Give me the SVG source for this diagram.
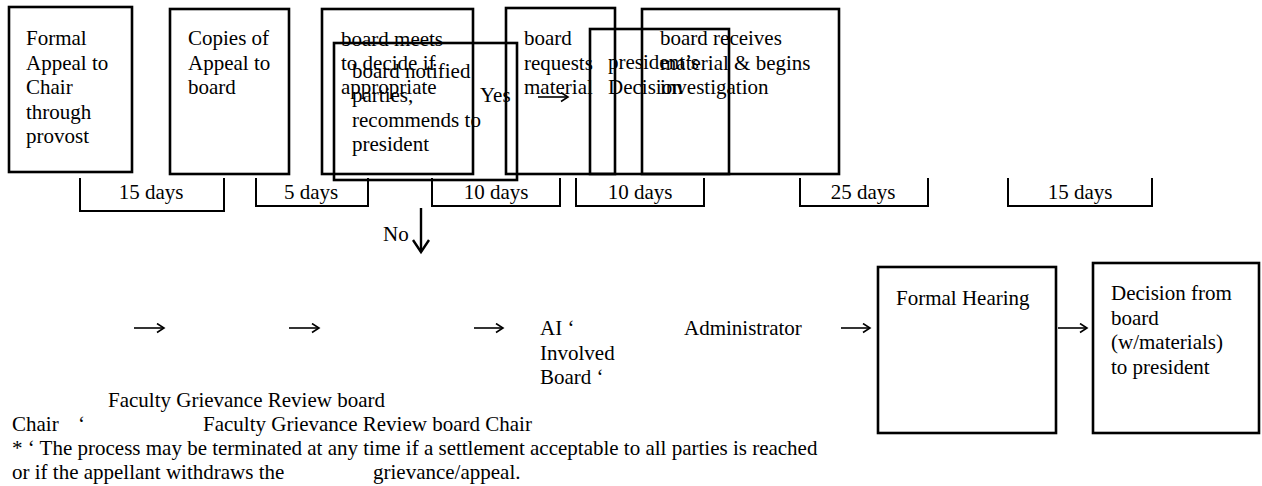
<svg xmlns="http://www.w3.org/2000/svg" width="1262" height="486" viewBox="0 0 1262 486">
<defs>
<style>
text{font-family:"Liberation Serif","Times New Roman",serif;font-size:21px;fill:#000}
.box{fill:none;stroke:#000;stroke-width:2.6}
.br{fill:none;stroke:#000;stroke-width:2}
.arr{fill:none;stroke:#000;stroke-width:1.6}
.arrb{fill:none;stroke:#000;stroke-width:2.4}
</style>
<marker id="ah" markerUnits="userSpaceOnUse" markerWidth="10" markerHeight="12" refX="8" refY="5" orient="auto">
<path d="M1,0.5 L8,5 L1,9.5" fill="none" stroke="#000" stroke-width="1.6"/>
</marker>
<marker id="ahb" markerUnits="userSpaceOnUse" markerWidth="16" markerHeight="20" refX="13" refY="9" orient="auto">
<path d="M1,1 L13,9 L1,17" fill="none" stroke="#000" stroke-width="2.4"/>
</marker>
</defs>
<rect width="1262" height="486" fill="#fff"/>

<g id="n-formal-appeal">
<rect class="box" x="9" y="7" width="123" height="165"/>
<text x="26" y="45">Formal<tspan x="26" dy="24.5">Appeal to</tspan><tspan x="26" dy="24.5">Chair</tspan><tspan x="26" dy="24.5">through</tspan><tspan x="26" dy="24.5">provost</tspan></text>
</g>
<g id="n-copies">
<rect class="box" x="170" y="9" width="119" height="165"/>
<text x="188" y="45">Copies of<tspan x="188" dy="24.5">Appeal to</tspan><tspan x="188" dy="24.5">board</tspan></text>
</g>
<g id="n-board-meets">
<rect class="box" x="322" y="9" width="151" height="165"/>
<text x="341" y="46">board meets<tspan x="341" dy="24">to decide if</tspan><tspan x="341" dy="24">appropriate</tspan></text>
</g>
<g id="n-board-notified">
<rect class="box" x="334" y="43" width="183" height="137"/>
<text x="352" y="77.5">board notified<tspan x="352" dy="24.5">parties,</tspan><tspan x="352" dy="24.5">recommends to</tspan><tspan x="352" dy="24.5">president</tspan></text>
</g>
<g id="n-board-requests">
<rect class="box" x="506" y="8" width="109" height="166"/>
<text x="524" y="45">board<tspan x="524" dy="24.5">requests</tspan><tspan x="524" dy="24.5">material</tspan></text>
</g>
<g id="n-president-decision">
<rect class="box" x="590" y="29" width="139" height="145"/>
<text x="608" y="69">president’s<tspan x="608" dy="24.5">Decision</tspan></text>
</g>
<g id="n-board-receives">
<rect class="box" x="642" y="9" width="197" height="165"/>
<text x="660" y="45">board receives<tspan x="660" dy="24.5">material &amp; begins</tspan><tspan x="660" dy="24.5">investigation</tspan></text>
</g>
<g id="n-formal-hearing">
<rect class="box" x="878" y="267" width="178" height="166"/>
<text x="896" y="305">Formal Hearing</text>
</g>
<g id="n-decision">
<rect class="box" x="1093" y="263" width="166" height="170"/>
<text x="1111" y="300">Decision from<tspan x="1111" dy="24.5">board</tspan><tspan x="1111" dy="24.5">(w/materials)</tspan><tspan x="1111" dy="24.5">to president</tspan></text>
</g>

<g id="timeline">
<path class="br" d="M80,178 V211 H224 V178"/>
<path class="br" d="M256,178 V206 H368 V178"/>
<path class="br" d="M432,178 V206 H560 V178"/>
<path class="br" d="M576,178 V206 H704 V178"/>
<path class="br" d="M800,178 V206 H928 V178"/>
<path class="br" d="M1008,178 V206 H1152 V178"/>
<text x="151" y="199" text-anchor="middle">15 days</text>
<text x="311" y="199" text-anchor="middle">5 days</text>
<text x="496" y="199" text-anchor="middle">10 days</text>
<text x="640" y="199" text-anchor="middle">10 days</text>
<text x="863" y="199" text-anchor="middle">25 days</text>
<text x="1080" y="199" text-anchor="middle">15 days</text>
</g>

<g id="connectors">
<path class="arr" d="M538,97 H568" marker-end="url(#ah)"/>
<path class="arrb" d="M421,208 V252" marker-end="url(#ahb)"/>
<path class="arr" d="M134,328 H164" marker-end="url(#ah)"/>
<path class="arr" d="M289,328 H319" marker-end="url(#ah)"/>
<path class="arr" d="M474,328 H503" marker-end="url(#ah)"/>
<path class="arr" d="M841,328 H870" marker-end="url(#ah)"/>
<path class="arr" d="M1058,328 H1087" marker-end="url(#ah)"/>
<text x="480" y="102">Yes</text>
<text x="383" y="241">No</text>
</g>

<g id="labels">
<text x="540" y="335">AI ‘<tspan x="540" dy="24.5">Involved</tspan><tspan x="540" dy="24.5">Board ‘</tspan></text>
<text x="684" y="335">Administrator</text>
<text x="108" y="407">Faculty Grievance Review board</text>
<text x="12" y="431">Chair</text>
<text x="78" y="431">‘</text>
<text x="203" y="431">Faculty Grievance Review board Chair</text>
<text x="12" y="455">* ‘ The process may be terminated at any time if a settlement acceptable to all parties is reached</text>
<text x="12" y="479">or if the appellant withdraws the</text>
<text x="373" y="479">grievance/appeal.</text>
</g>
</svg>
